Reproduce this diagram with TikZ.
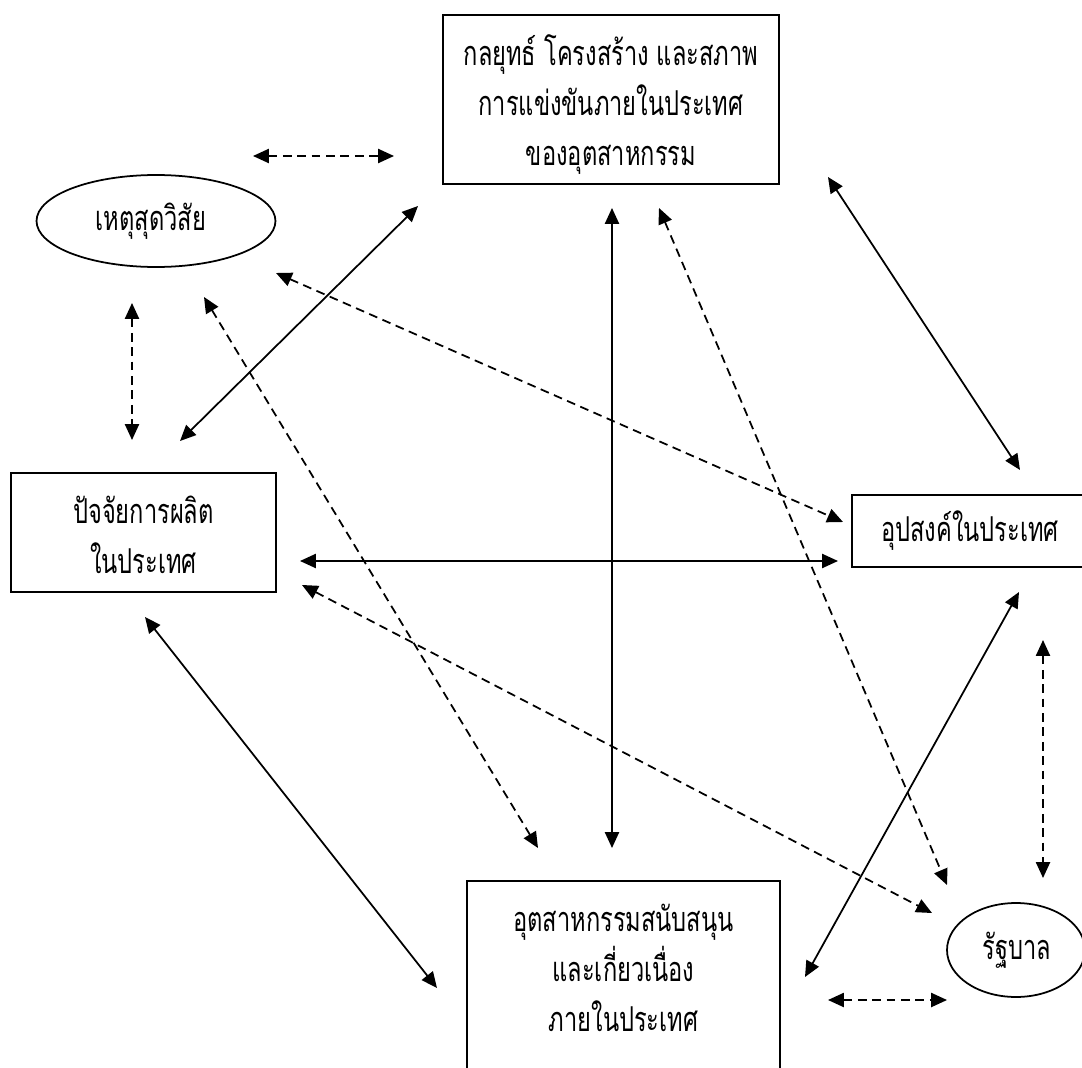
\documentclass[tikz,border=0pt]{standalone}
\usepackage{fontspec}
\newfontfamily\thaifont[Script=Thai,FakeStretch=0.69]{Loma}
\usetikzlibrary{arrows.meta,shapes.geometric}
\tikzset{
  boxshape/.style={draw, line width=1pt, rectangle, inner sep=0pt},
  ellshape/.style={draw, line width=1pt, ellipse, inner sep=0pt},
  txt/.style={align=center, font=\thaifont\fontsize{19.5}{28.45}\selectfont, inner sep=0pt},
  link/.style={line width=1pt, {Triangle[length=9pt,width=8pt]}-{Triangle[length=9pt,width=8pt]}},
  dlink/.style={link, dash pattern=on 5pt off 3.2pt}
}
\begin{document}
\begin{tikzpicture}[x=0.02cm, y=-0.02cm]
\path[use as bounding box] (0,0) rectangle (1082,1068);
\clip (0,0) rectangle (1082,1068);
% shapes
\node[boxshape, minimum width=6.72cm, minimum height=3.38cm] (top) at (611,99.5) {};
\node[txt] (toptext) at (611,105) {กลยุทธ์ โครงสร้าง และสภาพ\\การแข่งขันภายในประเทศ\\ของอุตสาหกรรม};
\node[ellshape, minimum width=4.78cm, minimum height=1.84cm] (force) at (156,221) {};
\node[txt] (forcetext) at (151,221) {เหตุสุดวิสัย};
\node[boxshape, minimum width=5.30cm, minimum height=2.38cm] (factor) at (143.5,532.5) {};
\node[txt] (factortext) at (143.5,535) {ปัจจัยการผลิต\\ในประเทศ};
\node[boxshape, minimum width=4.76cm, minimum height=1.44cm] (demand) at (971,531) {};
\node[txt] (demandtext) at (970,531) {อุปสงค์ในประเทศ};
\node[boxshape, minimum width=6.26cm, minimum height=4.38cm] (support) at (623.5,990.5) {};
\node[txt] (supporttext) at (623.5,968) {อุตสาหกรรมสนับสนุน\\และเกี่ยวเนื่อง\\ภายในประเทศ};
\node[ellshape, minimum width=2.76cm, minimum height=1.88cm] (gov) at (1016,950) {};
\node[txt] (govtext) at (1017,950) {รัฐบาล};
% connector end points
\coordinate (a1) at (253,156); \coordinate (b1) at (394,156);
\coordinate (a2) at (180,441); \coordinate (b2) at (418,206);
\coordinate (a3) at (276,273); \coordinate (b3) at (843,522);
\coordinate (a4) at (132,303); \coordinate (b4) at (132,440);
\coordinate (a5) at (204,297); \coordinate (b5) at (538,848);
\coordinate (a6) at (612,208); \coordinate (b6) at (612,848);
\coordinate (a7) at (659,208); \coordinate (b7) at (947,885);
\coordinate (a8) at (828,177); \coordinate (b8) at (1020,470);
\coordinate (a9) at (300,561); \coordinate (b9) at (838,561);
\coordinate (a10) at (302,585); \coordinate (b10) at (932,913);
\coordinate (a11) at (145,617); \coordinate (b11) at (437,988);
\coordinate (a12) at (1019,592); \coordinate (b12) at (805,977);
\coordinate (a13) at (1043,640); \coordinate (b13) at (1043,878);
\coordinate (a14) at (828,1000); \coordinate (b14) at (947,1000);
% connectors
\draw[dlink] (a1) -- (b1);
\draw[link] (a2) -- (b2);
\draw[dlink] (a3) -- (b3);
\draw[dlink] (a4) -- (b4);
\draw[dlink] (a5) -- (b5);
\draw[link] (a6) -- (b6);
\draw[dlink] (a7) -- (b7);
\draw[link] (a8) -- (b8);
\draw[link] (a9) -- (b9);
\draw[dlink] (a10) -- (b10);
\draw[link] (a11) -- (b11);
\draw[link] (a12) -- (b12);
\draw[dlink] (a13) -- (b13);
\draw[dlink] (a14) -- (b14);
\end{tikzpicture}
\end{document}
